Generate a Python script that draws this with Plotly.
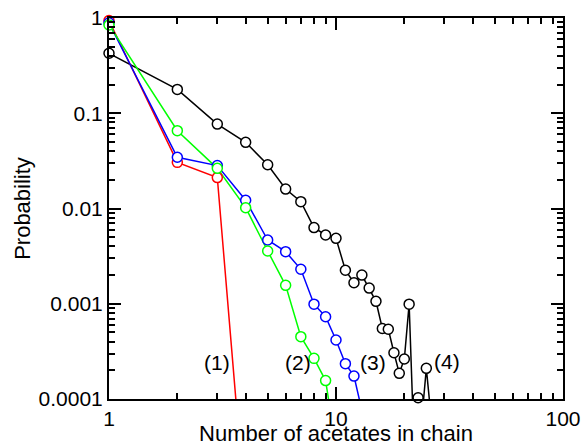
import plotly.graph_objects as go
import math

# ---- data ----
x_black = list(range(1, 27))
p_black = [0.426, 0.178, 0.077, 0.0495, 0.0288, 0.016, 0.0118, 0.0063, 0.00527, 0.00486,
           0.00225, 0.00166, 0.0020, 0.00146, 0.00106, 0.00055, 0.00054, 0.000306, 0.000186, 0.000263,
           0.00099, 0.00004, 0.000103, 0.00007, 0.00021, 0.00008]

x_red = [1, 2, 3, 4]
p_red = [0.94, 0.0305, 0.0211, 0.0000058]

x_blue = list(range(1, 14))
p_blue = [0.89, 0.0345, 0.0282, 0.0122, 0.00467, 0.00352, 0.0023, 0.00099, 0.00073, 0.000416,
          0.000235, 0.000174, 0.000076]

x_green = list(range(1, 11))
p_green = [0.845, 0.0656, 0.0264, 0.0102, 0.00358, 0.00156, 0.000451, 0.000267, 0.000156, 0.000031]

curve_labels = ["(1)", "(2)", "(3)", "(4)"]
label_x = [2.98, 6.82, 14.6, 30.7]
label_y = [0.000239, 0.000239, 0.000239, 0.000245]

x_tickvals = [1, 10, 100]
x_ticktext = ["1", "10", "100"]
y_tickvals = [0.0001, 0.001, 0.01, 0.1, 1]
y_ticktext = ["0.0001", "0.001", "0.01", "0.1", "1"]

PMIN = 1e-4
FONT = "Liberation Sans, Arial, Helvetica, sans-serif"

fig = go.Figure()

series = [
    (x_black, p_black, "black"),
    (x_red, p_red, "#ff0000"),
    (x_blue, p_blue, "#0000ff"),
    (x_green, p_green, "#00ff00"),
]

for xs, ps, col in series:
    fig.add_trace(go.Scatter(x=xs, y=ps, mode="lines",
                             line=dict(color=col, width=1.5),
                             showlegend=False, hoverinfo="skip"))
for xs, ps, col in series:
    xv = [a for a, b in zip(xs, ps) if b >= PMIN]
    yv = [b for b in ps if b >= PMIN]
    fig.add_trace(go.Scatter(x=xv, y=yv, mode="markers",
                             marker=dict(symbol="circle", size=10, color="white",
                                         line=dict(color=col, width=1.5)),
                             cliponaxis=False, showlegend=False))

for t, lx, ly in zip(curve_labels, label_x, label_y):
    fig.add_annotation(x=math.log10(lx), y=math.log10(ly), text=t, showarrow=False,
                       font=dict(family=FONT, size=21, color="black"))

minor_x = [m * 10 ** d for d in range(0, 2) for m in range(2, 10)]
minor_y = [m * 10 ** d for d in range(-4, 0) for m in range(2, 10)]

axis_common = dict(
    type="log", showline=True, linewidth=2, linecolor="black", mirror="allticks",
    ticks="inside", ticklen=12, tickwidth=1.5, tickcolor="black",
    showgrid=False, zeroline=False, tickmode="array", automargin=False,
    tickfont=dict(family=FONT, size=21, color="black"),
)

fig.update_layout(
    width=582, height=446,
    margin=dict(l=109, r=19, t=18, b=47),
    paper_bgcolor="white", plot_bgcolor="white",
    font=dict(family=FONT, color="black"),
    xaxis=dict(range=[0, 2], tickvals=x_tickvals, ticktext=x_ticktext,
               minor=dict(ticks="inside", ticklen=6, tickwidth=1.5, tickcolor="black",
                          tickmode="array", tickvals=minor_x, showgrid=False),
               title=dict(text="Number of acetates in chain",
                          font=dict(family=FONT, size=22, color="black"), standoff=0),
               **axis_common),
    yaxis=dict(range=[-4, 0], tickvals=y_tickvals, ticktext=y_ticktext,
               minor=dict(ticks="inside", ticklen=6, tickwidth=1.5, tickcolor="black",
                          tickmode="array", tickvals=minor_y, showgrid=False),
               title=dict(text="Probability",
                          font=dict(family=FONT, size=22, color="black"), standoff=2),
               **axis_common),
)

fig.write_html("out.html", config={"displayModeBar": False},
               post_script="document.body.style.margin='0px';")
